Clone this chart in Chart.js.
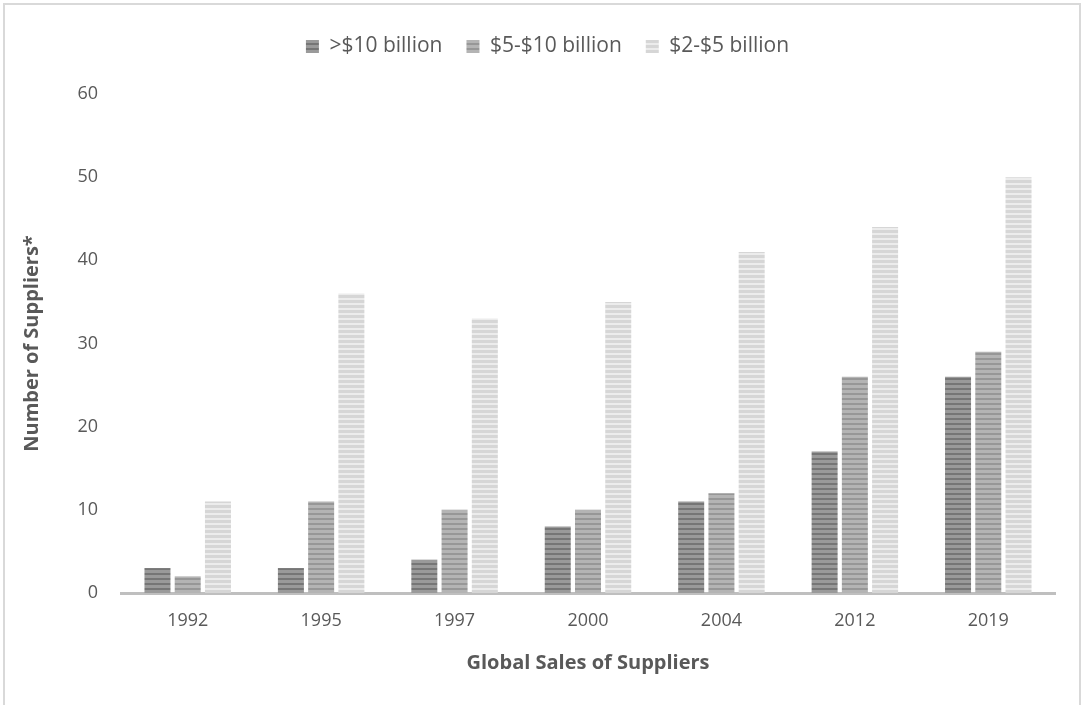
<!DOCTYPE html>
<html>
<head>
<meta charset="utf-8">
<script src="https://cdn.jsdelivr.net/npm/chart.js@4/dist/chart.umd.min.js"></script>
<style>
  html, body { margin: 0; padding: 0; background: #fff; }
  #wrap { width: 1083px; height: 705px; position: relative; }
</style>
</head>
<body>
<div id="wrap"><canvas id="spaceForGraphic" width="1083" height="705"></canvas></div>
<script>
// datos del grafico
const years = ["1992", "1995", "1997", "2000", "2004", "2012", "2019"];
const over10 = [3, 3, 4, 8, 11, 17, 26];
const from5to10 = [2, 11, 10, 10, 12, 26, 29];
const from2to5 = [11, 36, 33, 35, 41, 44, 50];
const seriesNames = [">$10 billion", "$5-$10 billion", "$2-$5 billion"];

// patron de rayas horizontales para las barras
function stripes(base, line) {
  const c = document.createElement("canvas");
  c.width = 8;
  c.height = 5;
  const ctx = c.getContext("2d");
  ctx.fillStyle = base;
  ctx.fillRect(0, 0, 8, 5);
  ctx.fillStyle = line;
  ctx.fillRect(0, 3, 8, 2);
  return ctx.createPattern(c, "repeat");
}

const textColor = "#595959";
Chart.defaults.font.family = "'Open Sans', sans-serif";
Chart.defaults.color = textColor;

// marco gris alrededor del grafico
const frame = {
  id: "frame",
  beforeDraw(chart) {
    const ctx = chart.ctx;
    ctx.save();
    ctx.strokeStyle = "#d9d9d9";
    ctx.lineWidth = 2;
    ctx.beginPath();
    ctx.moveTo(4, 710);
    ctx.lineTo(4, 4);
    ctx.lineTo(1080, 4);
    ctx.lineTo(1080, 710);
    ctx.stroke();
    ctx.restore();
  },
};

// mas espacio debajo de la leyenda y leyenda un poco a la derecha
const legendSpace = {
  id: "legendSpace",
  beforeInit(chart) {
    const legend = chart.legend;
    const fit = legend.fit;
    legend.fit = function () {
      fit.bind(legend)();
      this.height += 27;
    };
    const draw = legend.draw;
    legend.draw = function () {
      const ctx = chart.ctx;
      ctx.save();
      ctx.translate(12, 0);
      draw.bind(legend)();
      ctx.restore();
    };
  },
};

const spaceForGraphic = document.getElementById("spaceForGraphic");
new Chart(spaceForGraphic, {
  type: "bar",
  data: {
    labels: years,
    datasets: [
      { label: seriesNames[0], data: over10, backgroundColor: stripes("#9a9a9a", "#767676") },
      { label: seriesNames[1], data: from5to10, backgroundColor: stripes("#b4b4b4", "#979797") },
      { label: seriesNames[2], data: from2to5, backgroundColor: stripes("#d6d6d6", "#ececec") },
    ],
  },
  options: {
    responsive: false,
    animation: false,
    layout: { padding: { left: 16, right: 28, top: 12, bottom: 26 } },
    datasets: { bar: { categoryPercentage: 0.68, barPercentage: 0.86 } },
    plugins: {
      tooltip: { enabled: false },
      legend: {
        position: "top",
        labels: { boxWidth: 13, boxHeight: 13, padding: 24, font: { size: 21 }, color: textColor },
      },
    },
    scales: {
      x: {
        grid: { display: false, drawTicks: false },
        border: { color: "#bfbfbf", width: 3 },
        ticks: { padding: 17, font: { size: 18 }, color: textColor },
        title: { display: true, text: "Global Sales of Suppliers", font: { size: 20, weight: "bold" }, color: textColor, padding: { top: 6 } },
        afterFit(scale) { scale.height = 86; },
      },
      y: {
        min: 0,
        max: 60,
        grid: { display: false, drawTicks: false },
        border: { display: false },
        ticks: { stepSize: 10, padding: 23, font: { size: 18 }, color: textColor },
        title: { display: true, text: "Number of Suppliers*", font: { size: 20, weight: "bold" }, color: textColor },
        afterFit(scale) { scale.width = 105; },
      },
    },
  },
  plugins: [frame, legendSpace],
});
</script>
</body>
</html>
